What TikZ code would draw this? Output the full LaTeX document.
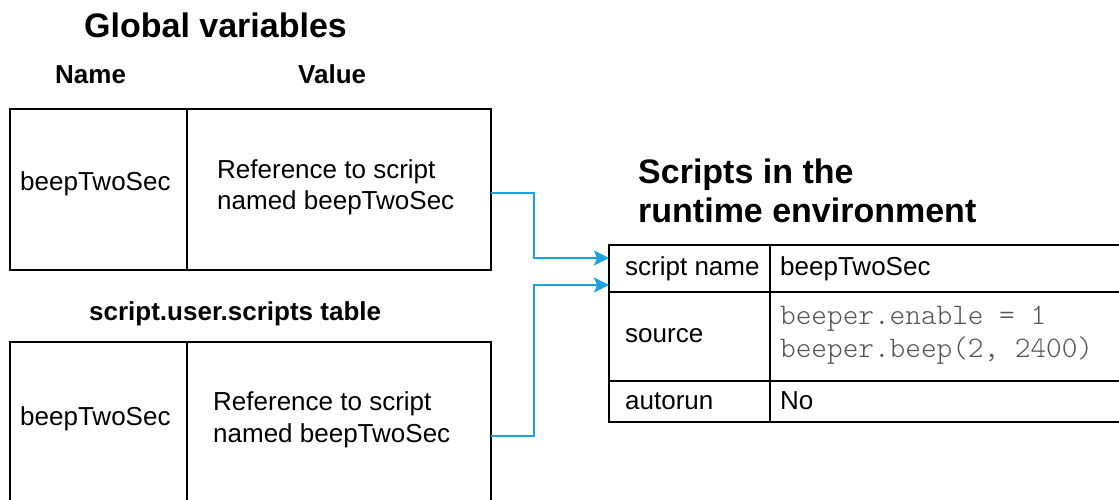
\documentclass[tikz,border=0pt]{standalone}
\usepackage{fontspec}
\setmainfont{Liberation Sans}
\newfontfamily\codefont{Latin Modern Mono Light}
\usetikzlibrary{arrows.meta}
\definecolor{arrowblue}{RGB}{27,163,226}
\definecolor{codegray}{RGB}{85,85,85}
\begin{document}
\begin{tikzpicture}[x=1pt,y=-1pt,
  cell/.style={draw=black,line width=2pt,rectangle,inner sep=0pt,outer sep=0pt},
  body/.style={font=\fontsize{26}{31}\selectfont,inner sep=0pt,anchor=base west},
  head/.style={font=\fontsize{26}{31}\selectfont\bfseries,inner sep=0pt,anchor=base west},
  title/.style={font=\fontsize{34}{40}\selectfont\bfseries,inner sep=0pt,anchor=base west},
  code/.style={font=\fontsize{29.8}{33}\selectfont\codefont,text=codegray,inner sep=0pt,anchor=base west},
  arr/.style={draw=arrowblue,line width=2pt,-{Stealth[length=15pt,width=15pt,inset=3pt]}}]
\useasboundingbox (0,0) rectangle (1119,499);
\clip (0,0) rectangle (1119,499);
\fill[white] (0,0) rectangle (1119,499);

% titles
\node[title] (tglob) at (84,37) {Global variables};
\node[head] (tname) at (55,83.5) {Name};
\node[head] (tvalue) at (298,83.5) {Value};
\node[head] (tuser) at (89,320) {script.user.scripts table};
\node[title] (trun) at (638,183) {Scripts in the};
\node[title] (trun2) at (638,222) {runtime environment};

% global variables table
\node[cell,minimum width=177pt,minimum height=161pt,anchor=north west] (gname) at (10,109) {};
\node[cell,minimum width=304pt,minimum height=161pt,anchor=north west] (gval) at (187,109) {};
\node[body] (gnametxt) at (20,190) {beepTwoSec};
\node[body] (gval1) at (217,178) {Reference to script};
\node[body] (gval2) at (217,209) {named beepTwoSec};

% script.user.scripts table
\node[cell,minimum width=177pt,minimum height=188pt,anchor=north west] (uname) at (10,342) {};
\node[cell,minimum width=304pt,minimum height=188pt,anchor=north west] (uval) at (187,342) {};
\node[body] (unametxt) at (20,425) {beepTwoSec};
\node[body] (uval1) at (213,410) {Reference to script};
\node[body] (uval2) at (213,442) {named beepTwoSec};

% runtime environment table
\node[cell,minimum width=161pt,minimum height=47pt,anchor=north west] (r1a) at (609,245) {};
\node[cell,minimum width=380pt,minimum height=47pt,anchor=north west] (r1b) at (770,245) {};
\node[cell,minimum width=161pt,minimum height=89pt,anchor=north west] (r2a) at (609,292) {};
\node[cell,minimum width=380pt,minimum height=89pt,anchor=north west] (r2b) at (770,292) {};
\node[cell,minimum width=161pt,minimum height=41pt,anchor=north west] (r3a) at (609,381) {};
\node[cell,minimum width=380pt,minimum height=41pt,anchor=north west] (r3b) at (770,381) {};
\node[body] (t1a) at (625,275) {script name};
\node[body] (t1b) at (780,275) {beepTwoSec};
\node[body] (t2a) at (625,342) {source};
\node[code] (t2b) at (780,324) {beeper.enable = 1};
\node[code] (t2c) at (780,357) {beeper.beep(2, 2400)};
\node[body] (t3a) at (625,409) {autorun};
\node[body] (t3b) at (780,409) {No};

% connectors
\coordinate (in1) at (609,258);
\coordinate (in2) at (609,285);
\coordinate (bend1) at (534,193);
\coordinate (bend2) at (534,436);
\draw[arr] (gval.east |- bend1) -- (bend1) |- (in1);
\draw[arr] (uval.east |- bend2) -- (bend2) |- (in2);
\end{tikzpicture}
\end{document}
